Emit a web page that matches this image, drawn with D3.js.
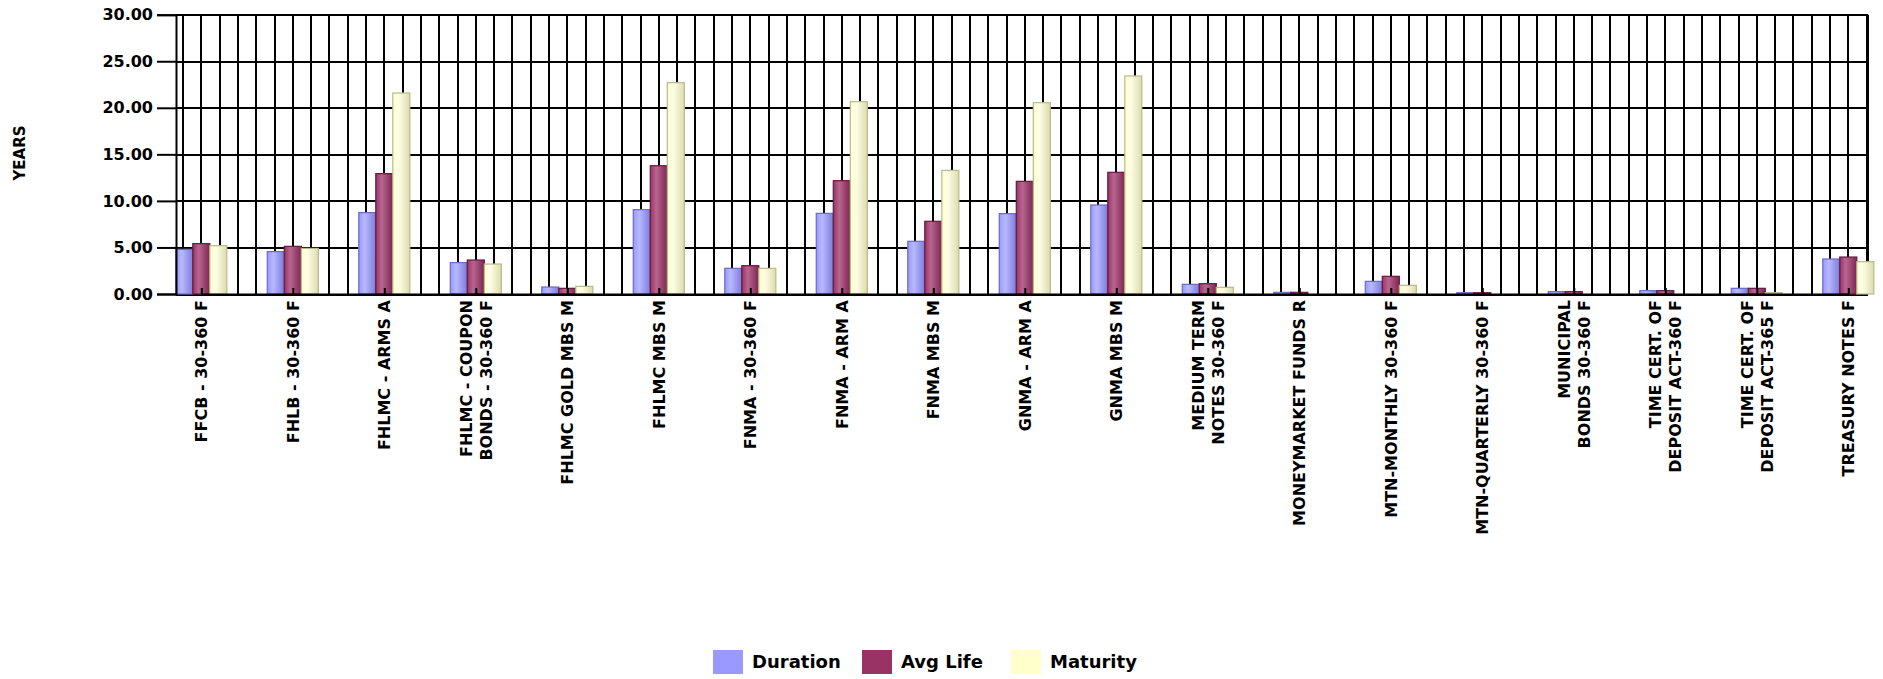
<!DOCTYPE html>
<html lang="en">
<head>
    <meta charset="UTF-8">
    <title>Duration / Avg Life / Maturity</title>
    <script src="https://d3js.org/d3.v7.min.js"></script>
    <style>
        body {
            margin: 0;
            background: #ffffff;
        }

        .grid line {
            stroke: #000000;
            stroke-width: 2;
            shape-rendering: crispEdges;
        }

        .grid path {
            stroke-width: 0;
        }

        .y-axis path,
        .x-axis path {
            stroke: #000000;
            stroke-width: 2;
        }

        .y-axis line,
        .x-axis line {
            stroke: #000000;
            stroke-width: 2;
        }

        .axis-text {
            font-family: "DejaVu Sans", Verdana, sans-serif;
            font-weight: bold;
            font-size: 16px;
            fill: #000000;
        }

        .legend-text {
            font-family: "DejaVu Sans", Verdana, sans-serif;
            font-weight: bold;
            font-size: 18px;
            fill: #000000;
        }
    </style>
</head>
<body>
    <div id="chart"></div>
    <script>
        const categories = [
            "FFCB - 30-360 F",
            "FHLB - 30-360 F",
            "FHLMC - ARMS A",
            "FHLMC - COUPON\nBONDS - 30-360 F",
            "FHLMC GOLD MBS M",
            "FHLMC MBS M",
            "FNMA - 30-360 F",
            "FNMA - ARM A",
            "FNMA MBS M",
            "GNMA - ARM A",
            "GNMA MBS M",
            "MEDIUM TERM\nNOTES 30-360 F",
            "MONEYMARKET FUNDS R",
            "MTN-MONTHLY 30-360 F",
            "MTN-QUARTERLY 30-360 F",
            "MUNICIPAL\nBONDS 30-360 F",
            "TIME CERT. OF\nDEPOSIT ACT-360 F",
            "TIME CERT. OF\nDEPOSIT ACT-365 F",
            "TREASURY NOTES F"
        ];

        const duration = [4.80, 4.55, 8.74, 3.37, 0.75, 9.06, 2.76, 8.66, 5.66, 8.63, 9.56, 1.04, 0.18, 1.36, 0.14, 0.25, 0.36, 0.61, 3.76];
        const avgLife = [5.41, 5.12, 12.93, 3.65, 0.61, 13.78, 3.04, 12.17, 7.81, 12.10, 13.07, 1.11, 0.18, 1.90, 0.14, 0.25, 0.36, 0.61, 3.97];
        const maturity = [5.19, 4.90, 21.59, 3.22, 0.82, 22.70, 2.76, 20.66, 13.28, 20.55, 23.42, 0.72, 0, 0.93, 0, 0, 0, 0.14, 3.47];

        const seriesNames = ["Duration", "Avg Life", "Maturity"];
        const yTicks = [0, 5, 10, 15, 20, 25, 30];
        const yTitle = "YEARS";

        // colours: legend swatch, highlight, shadow, border
        const palette = [
            { base: "#9999ff", light: "#b8b8ff", dark: "#7c7cdc", stroke: "#6b6bc0" },
            { base: "#993366", light: "#b86690", dark: "#7d2651", stroke: "#65193f" },
            { base: "#ffffcc", light: "#fdfde6", dark: "#dcdcac", stroke: "#b9b98e" }
        ];

        const W = 1883, H = 679;
        const plot = { left: 176, right: 1868, top: 14.7, bottom: 294 };

        const svg = d3.select("#chart")
            .append("svg")
            .attr("width", W)
            .attr("height", H);

        const defs = svg.append("defs");
        palette.forEach((c, i) => {
            const g = defs.append("linearGradient")
                .attr("id", "grad" + i)
                .attr("x1", "0%").attr("x2", "100%")
                .attr("y1", "0%").attr("y2", "0%");
            g.append("stop").attr("offset", "0%").attr("stop-color", c.base);
            g.append("stop").attr("offset", "35%").attr("stop-color", c.light);
            g.append("stop").attr("offset", "100%").attr("stop-color", c.dark);
        });

        const x = d3.scalePoint()
            .domain(categories)
            .range([plot.left + 25.3, plot.right - 19.7]);

        const step = x.step();

        const inner = d3.scaleBand()
            .domain(seriesNames)
            .range([-step * 0.279, step * 0.279]);

        const y = d3.scaleLinear()
            .domain([0, 30])
            .range([plot.bottom, plot.top]);

        // vertical grid, five lines per category step, aligned on category centres
        const vLines = d3.range(x(categories[0]) - step, plot.right, step / 5)
            .filter(v => v > plot.left + 1 && v < plot.right);

        svg.append("g")
            .attr("class", "grid")
            .selectAll("line")
            .data(vLines)
            .join("line")
            .attr("x1", d => d)
            .attr("x2", d => d)
            .attr("y1", plot.top)
            .attr("y2", plot.bottom);

        svg.append("g")
            .attr("class", "grid")
            .attr("transform", `translate(${plot.left},0)`)
            .call(d3.axisLeft(y)
                .tickValues(yTicks)
                .tickSize(-(plot.right - plot.left))
                .tickFormat("")
            );

        svg.append("line")
            .attr("x1", plot.right).attr("x2", plot.right)
            .attr("y1", plot.top).attr("y2", plot.bottom)
            .attr("stroke", "#000")
            .attr("stroke-width", 2);

        const series = [duration, avgLife, maturity];

        const groups = svg.append("g")
            .selectAll("g")
            .data(series)
            .join("g")
            .attr("fill", (d, i) => `url(#grad${i})`)
            .attr("stroke", (d, i) => palette[i].stroke);

        groups.selectAll("rect")
            .data((vals, i) => vals.map((v, k) => ({ cat: categories[k], name: seriesNames[i], value: v })))
            .join("rect")
            .filter(d => d.value > 0)
            .attr("x", d => x(d.cat) + inner(d.name))
            .attr("width", inner.bandwidth())
            .attr("y", d => y(d.value))
            .attr("height", d => y(0) - y(d.value))
            .attr("stroke-width", 1.2);

        const yAxis = d3.axisLeft(y)
            .tickValues(yTicks)
            .tickSize(19)
            .tickPadding(4)
            .tickFormat(d3.format(".2f"));

        svg.append("g")
            .attr("class", "y-axis")
            .attr("transform", `translate(${plot.left},0)`)
            .call(yAxis)
            .selectAll("text")
            .attr("class", "axis-text");

        const xAxis = d3.axisBottom(x)
            .tickSizeInner(-6)
            .tickSizeOuter(0)
            .tickFormat("");

        const xg = svg.append("g")
            .attr("class", "x-axis")
            .attr("transform", `translate(0,${plot.bottom})`)
            .call(xAxis);

        xg.selectAll(".tick")
            .append("text")
            .attr("class", "axis-text")
            .attr("text-anchor", "end")
            .attr("transform", "translate(0,6) rotate(-90)")
            .each(function (d) {
                const lines = d.split("\n");
                const t = d3.select(this);
                const lh = 1.25;
                lines.forEach((ln, i) => {
                    t.append("tspan")
                        .attr("x", 0)
                        .attr("dy", i === 0 ? `${0.35 - (lines.length - 1) * lh / 2}em` : `${lh}em`)
                        .text(ln);
                });
            });

        svg.append("text")
            .attr("class", "axis-text")
            .attr("text-anchor", "middle")
            .attr("transform", "translate(20,153) rotate(-90)")
            .attr("dy", "0.35em")
            .style("font-size", "15px")
            .text(yTitle);

        // legend
        const legendX = [713, 862, 1011];
        const legend = svg.append("g")
            .selectAll("g")
            .data(seriesNames)
            .join("g")
            .attr("transform", (d, i) => `translate(${legendX[i]},650)`);

        legend.append("rect")
            .attr("width", 30)
            .attr("height", 24)
            .attr("fill", (d, i) => palette[i].base);

        legend.append("text")
            .attr("class", "legend-text")
            .attr("x", 39)
            .attr("y", 12)
            .attr("dy", "0.36em")
            .text(d => d);
    </script>
</body>
</html>
